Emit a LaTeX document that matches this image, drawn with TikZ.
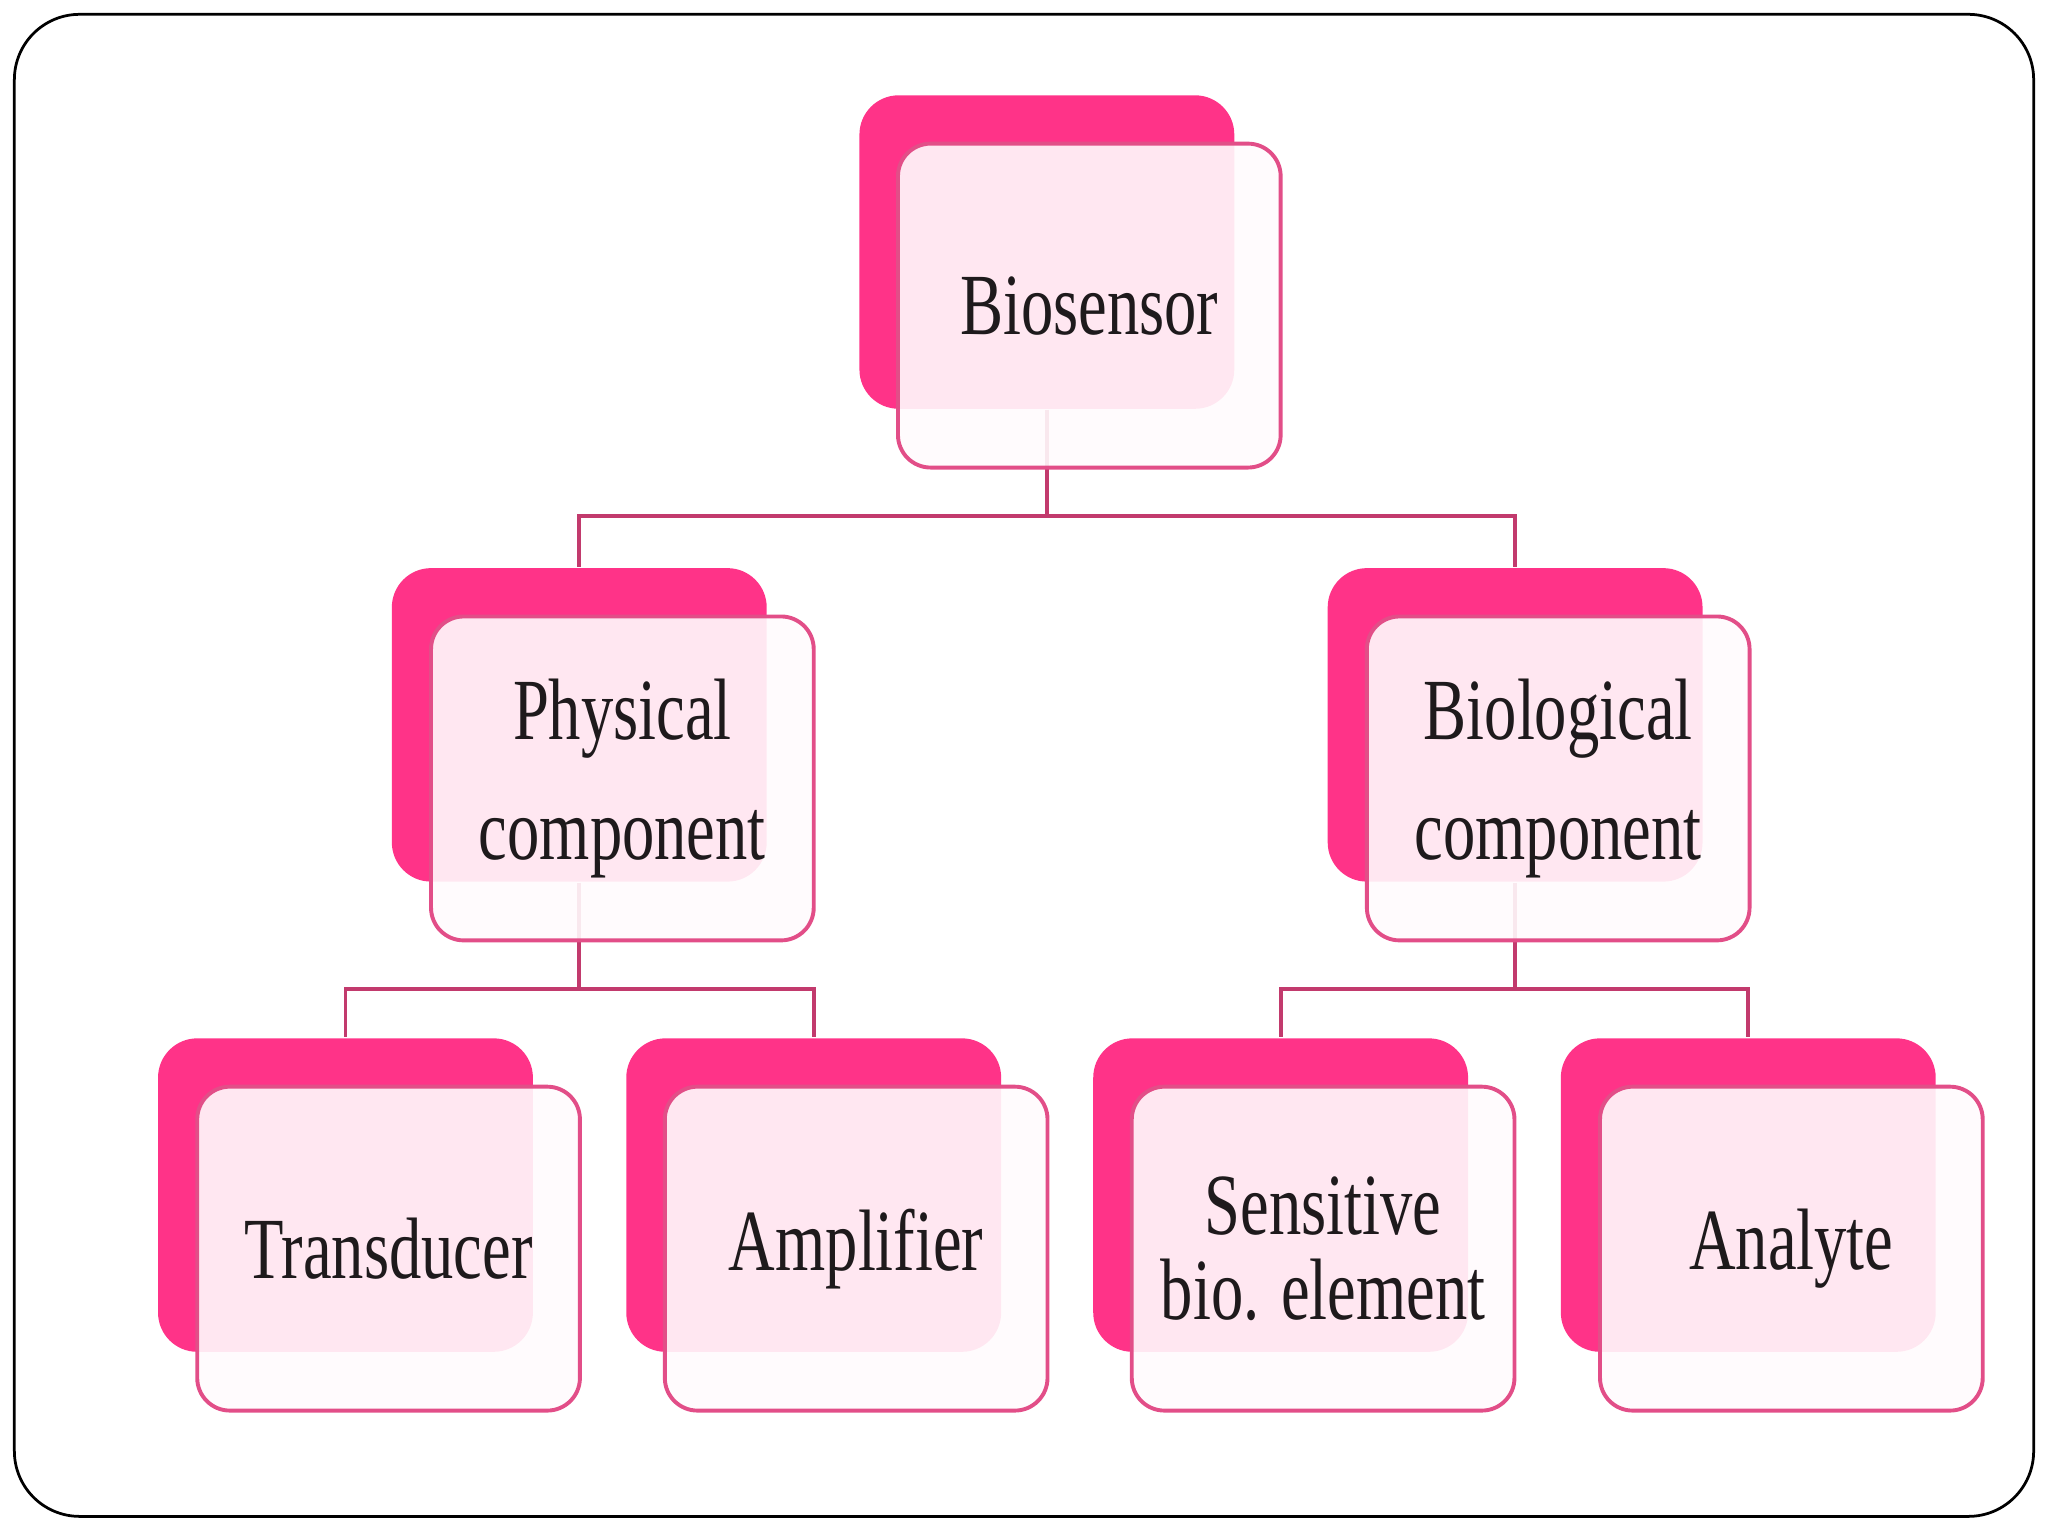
\documentclass[tikz,border=0pt]{standalone}
\usepackage{fontspec}
\newfontfamily\cardfont[FakeStretch=0.74]{Liberation Serif}
\definecolor{backpink}{HTML}{FF3388}
\definecolor{edgepink}{HTML}{E24E88}
\definecolor{linkpink}{HTML}{C23A6D}
\definecolor{inkgray}{HTML}{1E1A1C}
\tikzset{
	backbox/.style={rectangle, rounded corners=0.3cm, fill=backpink,
		minimum width=2.87cm, minimum height=2.40cm, inner sep=0pt},
	frontbox/.style={rectangle, rounded corners=0.25cm, draw=edgepink,
		line width=0.85pt, fill=white!98!backpink, fill opacity=0.9,
		text opacity=1, text=inkgray, minimum width=2.93cm,
		minimum height=2.48cm, inner sep=0pt, align=center,
		font={\cardfont\fontsize{19}{26}\selectfont}},
	link/.style={draw=linkpink, line width=0.85pt}
}
\begin{document}
\begin{tikzpicture}
		\useasboundingbox (0,0) rectangle (15.68,11.76);
		\draw[black, line width=0.6pt, rounded corners=0.5cm] (0.11,0.15) rectangle (15.57,11.65);
		% back cards
		\node [backbox] (bios-b) at (8.015,9.83) {};
		\node [backbox] (phys-b) at (4.435,6.21) {};
		\node [backbox] (biol-b) at (11.60,6.21) {};
		\node [backbox] (tran-b) at (2.645,2.61) {};
		\node [backbox] (ampl-b) at (6.23,2.61) {};
		\node [backbox] (sens-b) at (9.805,2.61) {};
		\node [backbox] (anal-b) at (13.385,2.61) {};
		% tree lines
		\coordinate (j0) at (8.015,7.81);
		\coordinate (j1) at (4.435,4.19);
		\coordinate (j2) at (11.60,4.19);
		\path[link]
					(bios-b.south) -- (j0) -| (phys-b.north)
					(j0) -| (biol-b.north)
					(phys-b.south) -- (j1) -| (tran-b.north)
					(j1) -| (ampl-b.north)
					(biol-b.south) -- (j2) -| (sens-b.north)
					(j2) -| (anal-b.north);
		% front cards
		\node [frontbox] (bios) at (8.34,9.42) {Biosensor};
		\node [frontbox] (phys) at (4.765,5.80) {Physical\\component};
		\node [frontbox] (biol) at (11.93,5.80) {Biological\\component};
		\node [frontbox] (tran) at (2.975,2.20) {Transducer};
		\node [frontbox] (ampl) at (6.555,2.20) {Amplifier};
		\node [frontbox, font={\cardfont\fontsize{19}{18.5}\selectfont}] (sens) at (10.13,2.20) {Sensitive\\bio. element};
		\node [frontbox] (anal) at (13.715,2.20) {Analyte};
	\end{tikzpicture}
\end{document}
